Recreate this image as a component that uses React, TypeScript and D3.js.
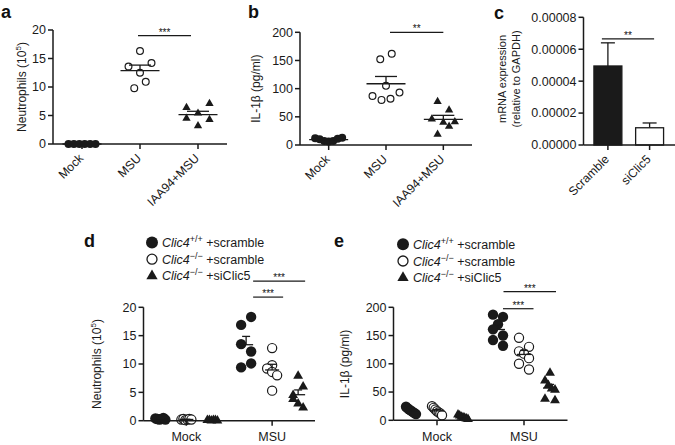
import React from 'react';
import * as d3 from 'd3';

const FONT = "'Liberation Sans', Arial, Helvetica, sans-serif";
const INK = '#1a1a1a';
const TXT = '#1a1a1a';

// ---------- Panel a : neutrophils (10^5)
const catsA = ['Mock', 'MSU', 'IAA94+MSU'];
const neutA_Mock = [0, 0, 0, 0, 0, 0];
const neutA_MSU = [16.3, 13.6, 12.5, 14.2, 9.8, 10.9];
const neutA_IAA = [6.4, 5.4, 7.1, 4.5, 3.2, 4.3];
const ticksA = [0, 5, 10, 15, 20];

// ---------- Panel b : IL-1β (pg/ml)
const il1bB_Mock = [12, 10, 7, 6, 7, 11, 13];
const il1bB_MSU = [152, 162, 105, 87, 80, 82, 93];
const il1bB_IAA = [77, 62, 46, 40, 41, 19, 33];
const ticksB = [0, 50, 100, 150, 200];

// ---------- Panel c : mRNA expression
const catsC = ['Scramble', 'siClic5'];
const mrnaMean = [0.0000495, 0.0000108];
const mrnaSem = [0.0000145, 0.000003];
const ticksC = [0, 0.00002, 0.00004, 0.00006, 0.00008];

// ---------- Panels d, e
const catsDE = ['Mock', 'MSU'];
const groupKeys = ['wt', 'ko', 'koSi'];
const legendSup = ['+/+', '\u2212/\u2212', '\u2212/\u2212'];
const legendTail = [' +scramble', ' +scramble', ' +siClic5'];

const neutD_Mock_wt = [0.4, 0.3, 0.2, 0.3, 0.5, 0.2];
const neutD_Mock_ko = [0.2, 0.3, 0.1, 0.2, 0.3, 0.2];
const neutD_Mock_koSi = [0.1, 0.1, 0.0, 0.1, 0.1, 0.0];
const neutD_MSU_wt = [16.9, 18.3, 13.5, 12.2, 9.4, 10.1];
const neutD_MSU_ko = [12.8, 9.8, 9.2, 8.6, 8.0, 5.3];
const neutD_MSU_koSi = [7.9, 4.5, 6.0, 3.8, 3.0, 2.3];
const ticksD = [0, 5, 10, 15, 20];

const il1bE_Mock_wt = [24, 21, 19, 17, 15, 13, 11];
const il1bE_Mock_ko = [25, 22, 19, 16, 14, 12, 9];
const il1bE_Mock_koSi = [10, 8, 6, 5, 4, 3, 2];
const il1bE_MSU_wt = [187, 170, 183, 161, 150, 142, 132];
const il1bE_MSU_ko = [146, 130, 122, 118, 110, 100, 90];
const il1bE_MSU_koSi = [84, 70, 62, 56, 54, 38, 35];
const ticksE = [0, 50, 100, 150, 200];

type MarkerType = 'filled' | 'open' | 'tri';
const markerOf: Record<string, MarkerType> = { wt: 'filled', ko: 'open', koSi: 'tri' };

type Opt = { T: number; spacing: number; maxHalf: number; r: number; tri: number; meanHalf: number; capHalf: number };

// Prism-like row spreading: values close in y share a row and are spread horizontally
function spread(values: number[], y: (v: number) => number, T: number, spacing: number, maxHalf: number) {
  const idx = values.map((_, i) => i).sort((a, b) => values[a] - values[b]);
  const offs = new Array(values.length).fill(0);
  let bin: number[] = [];
  let start = 0;
  const flush = () => {
    if (!bin.length) return;
    const ordered = bin.slice().sort((a, b) => a - b);
    const n = ordered.length;
    let sp = spacing;
    if (n > 1 && ((n - 1) / 2) * sp > maxHalf) sp = (2 * maxHalf) / (n - 1);
    ordered.forEach((i, k) => (offs[i] = (k - (n - 1) / 2) * sp));
    bin = [];
  };
  idx.forEach((i) => {
    const py = y(values[i]);
    if (bin.length && Math.abs(py - start) > T) flush();
    if (!bin.length) start = py;
    bin.push(i);
  });
  flush();
  return offs;
}

function Marker({ type, x, y, r, tri }: { type: MarkerType; x: number; y: number; r: number; tri: number }) {
  if (type === 'tri') {
    const d = d3.symbol(d3.symbolTriangle, tri)() as string;
    return <path d={d} transform={`translate(${x},${y})`} fill={INK} />;
  }
  if (type === 'open') return <circle cx={x} cy={y} r={r - 0.6} fill="#fff" stroke={INK} strokeWidth={1.2} />;
  return <circle cx={x} cy={y} r={r} fill={INK} />;
}

function ScatterSet({ cx, values, y, type, opt }: { cx: number; values: number[]; y: d3.ScaleLinear<number, number>; type: MarkerType; opt: Opt }) {
  const offs = spread(values, y, opt.T, opt.spacing, opt.maxHalf);
  const m = d3.mean(values) as number;
  const s = values.length > 1 ? (d3.deviation(values) as number) / Math.sqrt(values.length) : 0;
  return (
    <g>
      {values.map((v, i) => (
        <Marker key={i} type={type} x={cx + offs[i]} y={y(v)} r={opt.r} tri={opt.tri} />
      ))}
      <g stroke={INK} strokeWidth={1.3}>
        <line x1={cx - opt.meanHalf} x2={cx + opt.meanHalf} y1={y(m)} y2={y(m)} />
        <line x1={cx} x2={cx} y1={y(m)} y2={y(m + s)} />
        <line x1={cx - opt.capHalf} x2={cx + opt.capHalf} y1={y(m + s)} y2={y(m + s)} />
      </g>
    </g>
  );
}

function YAxis({ x, y, ticks, fmt }: { x: number; y: d3.ScaleLinear<number, number>; ticks: number[]; fmt: (v: number) => string }) {
  const [d0, d1] = y.domain();
  return (
    <g>
      <line x1={x} x2={x} y1={y(d0)} y2={y(d1)} stroke={INK} strokeWidth={1.5} />
      {ticks.map((t) => (
        <g key={t}>
          <line x1={x - 5} x2={x} y1={y(t)} y2={y(t)} stroke={INK} strokeWidth={1.5} />
          <text x={x - 7} y={y(t)} dy="0.35em" textAnchor="end" fontSize={12.5} fill={TXT}>
            {fmt(t)}
          </text>
        </g>
      ))}
    </g>
  );
}

function XAxis({ x0, x1, y0, positions }: { x0: number; x1: number; y0: number; positions: number[] }) {
  return (
    <g>
      <line x1={x0} x2={x1} y1={y0} y2={y0} stroke={INK} strokeWidth={1.5} />
      {positions.map((p, i) => (
        <line key={i} x1={p} x2={p} y1={y0} y2={y0 + 5} stroke={INK} strokeWidth={1.5} />
      ))}
    </g>
  );
}

function RotLabel({ x, y, text }: { x: number; y: number; text: string }) {
  return (
    <text transform={`translate(${x + 2},${y + 15}) rotate(-45)`} textAnchor="end" fontSize={12.2} fill={TXT}>
      {text}
    </text>
  );
}

function Sig({ x1, x2, y, label }: { x1: number; x2: number; y: number; label: string }) {
  return (
    <g>
      <line x1={x1} x2={x2} y1={y} y2={y} stroke={INK} strokeWidth={1.2} />
      <text x={(x1 + x2) / 2} y={y} textAnchor="middle" fontSize={10} fill="#111">
        {label}
      </text>
    </g>
  );
}

function YLabel({ x, y, size = 12, children }: { x: number; y: number; size?: number; children: React.ReactNode }) {
  return (
    <text transform={`translate(${x},${y}) rotate(-90)`} textAnchor="middle" fontSize={size} fill={TXT}>
      {children}
    </text>
  );
}

function Letter({ x, y, t }: { x: number; y: number; t: string }) {
  return (
    <text x={x} y={y} fontSize={18} fontWeight="bold" fill="#111">
      {t}
    </text>
  );
}

function Legend({ x, y, step }: { x: number; y: number; step: number }) {
  return (
    <g>
      {groupKeys.map((k, i) => {
        const cy = y + i * step;
        const type = markerOf[k];
        return (
          <g key={k}>
            {type === 'filled' && <circle cx={x} cy={cy} r={6} fill={INK} />}
            {type === 'open' && <circle cx={x} cy={cy} r={5} fill="#fff" stroke={INK} strokeWidth={1.3} />}
            {type === 'tri' && (
              <path d={d3.symbol(d3.symbolTriangle, 55)() as string} transform={`translate(${x},${cy})`} fill={INK} />
            )}
            <text x={x + 10} y={cy + 4.5} fontSize={12.5} fill={TXT}>
              <tspan fontStyle="italic">Clic4</tspan>
              <tspan fontSize={9} dy={-5}>{legendSup[i]}</tspan>
              <tspan dy={5}>{legendTail[i]}</tspan>
            </text>
          </g>
        );
      })}
    </g>
  );
}

const optAB: Opt = { T: 10, spacing: 11.5, maxHalf: 13.5, r: 4, tri: 30, meanHalf: 19.5, capHalf: 11 };
const optDE: Opt = { T: 10, spacing: 10, maxHalf: 5, r: 5.2, tri: 42, meanHalf: 7, capHalf: 4 };

export default function App() {
  // ---- a
  const xA = d3.scalePoint<string>().domain(catsA).range([53, 227]).padding(0.5);
  const yA = d3.scaleLinear().domain([0, 20]).range([144, 30]);
  const setsA: [string, number[], MarkerType][] = [
    ['Mock', neutA_Mock, 'filled'],
    ['MSU', neutA_MSU, 'open'],
    ['IAA94+MSU', neutA_IAA, 'tri'],
  ];
  // ---- b
  const xB = d3.scalePoint<string>().domain(catsA).range([300, 472]).padding(0.5);
  const yB = d3.scaleLinear().domain([0, 200]).range([145, 32.3]);
  const setsB: [string, number[], MarkerType][] = [
    ['Mock', il1bB_Mock, 'filled'],
    ['MSU', il1bB_MSU, 'open'],
    ['IAA94+MSU', il1bB_IAA, 'tri'],
  ];
  // ---- c
  const xC = d3.scaleBand<string>().domain(catsC).range([583.5, 674]).paddingInner(0.33).paddingOuter(0.25);
  const yC = d3.scaleLinear().domain([0, 0.00008]).range([145, 17.3]);
  // ---- d
  const xD = d3.scalePoint<string>().domain(catsDE).range([143.5, 315]).padding(0.5);
  const yD = d3.scaleLinear().domain([0, 20]).range([420.7, 307.3]);
  const sub = d3.scalePoint<string>().domain(groupKeys).range([-26, 26]);
  const setsD: [string, string, number[]][] = [
    ['Mock', 'wt', neutD_Mock_wt],
    ['Mock', 'ko', neutD_Mock_ko],
    ['Mock', 'koSi', neutD_Mock_koSi],
    ['MSU', 'wt', neutD_MSU_wt],
    ['MSU', 'ko', neutD_MSU_ko],
    ['MSU', 'koSi', neutD_MSU_koSi],
  ];
  // ---- e
  const xE = d3.scalePoint<string>().domain(catsDE).range([393.5, 567.5]).padding(0.5);
  const yE = d3.scaleLinear().domain([0, 200]).range([420.3, 307.3]);
  const setsE: [string, string, number[]][] = [
    ['Mock', 'wt', il1bE_Mock_wt],
    ['Mock', 'ko', il1bE_Mock_ko],
    ['Mock', 'koSi', il1bE_Mock_koSi],
    ['MSU', 'wt', il1bE_MSU_wt],
    ['MSU', 'ko', il1bE_MSU_ko],
    ['MSU', 'koSi', il1bE_MSU_koSi],
  ];

  const fmtInt = (v: number) => String(v);
  const fmtC = (v: number) => v.toFixed(5);

  return (
    <svg
      width={675}
      height={445}
      viewBox="0 0 675 445"
      style={{ position: 'absolute', left: 0, top: 0, background: '#fff' }}
      fontFamily={FONT}
    >
      <rect x={0} y={0} width={675} height={445} fill="#fff" />

      {/* ---------------- a ---------------- */}
      <Letter x={1} y={18} t="a" />
      <YLabel x={26} y={87}>
        Neutrophils (10<tspan fontSize={8} dy={-5}>5</tspan>
        <tspan dy={5}>)</tspan>
      </YLabel>
      {setsA.map(([c, v, t]) => (
        <ScatterSet key={c} cx={xA(c) as number} values={v} y={yA} type={t} opt={optAB} />
      ))}
      <YAxis x={53} y={yA} ticks={ticksA} fmt={fmtInt} />
      <XAxis x0={53} x1={227} y0={yA(0)} positions={catsA.map((c) => xA(c) as number)} />
      {catsA.map((c) => (
        <RotLabel key={c} x={xA(c) as number} y={yA(0)} text={c} />
      ))}
      <Sig x1={(xA('MSU') as number) - 2} x2={(xA('IAA94+MSU') as number) - 7} y={yA(19)} label="***" />

      {/* ---------------- b ---------------- */}
      <Letter x={248} y={18} t="b" />
      <YLabel x={259.5} y={88.7}>IL-1β (pg/ml)</YLabel>
      {setsB.map(([c, v, t]) => (
        <ScatterSet key={c} cx={xB(c) as number} values={v} y={yB} type={t} opt={optAB} />
      ))}
      <YAxis x={300} y={yB} ticks={ticksB} fmt={fmtInt} />
      <XAxis x0={300} x1={472} y0={yB(0)} positions={catsA.map((c) => xB(c) as number)} />
      {catsA.map((c) => (
        <RotLabel key={c} x={xB(c) as number} y={yB(0)} text={c} />
      ))}
      <Sig x1={(xB('MSU') as number) + 4} x2={(xB('IAA94+MSU') as number)} y={yB(200)} label="**" />

      {/* ---------------- c ---------------- */}
      <Letter x={494} y={18.5} t="c" />
      <YLabel x={506} y={79} size={11}>mRNA expression</YLabel>
      <YLabel x={520} y={79} size={11}>(relative to GAPDH)</YLabel>
      {catsC.map((c, i) => {
        const x0 = xC(c) as number;
        const bw = xC.bandwidth();
        const cx = x0 + bw / 2;
        const top = yC(mrnaMean[i]);
        const err = yC(mrnaMean[i] + mrnaSem[i]);
        return (
          <g key={c}>
            <line x1={cx} x2={cx} y1={top} y2={err} stroke={INK} strokeWidth={1.3} />
            <line x1={cx - 7} x2={cx + 7} y1={err} y2={err} stroke={INK} strokeWidth={1.3} />
            <rect
              x={x0}
              y={top}
              width={bw}
              height={yC(0) - top}
              fill={i === 0 ? INK : '#fff'}
              stroke={INK}
              strokeWidth={1.3}
            />
          </g>
        );
      })}
      <YAxis x={583.5} y={yC} ticks={ticksC} fmt={fmtC} />
      <XAxis x0={583.5} x1={675} y0={yC(0)} positions={catsC.map((c) => (xC(c) as number) + xC.bandwidth() / 2)} />
      {catsC.map((c) => (
        <RotLabel key={c} x={(xC(c) as number) + xC.bandwidth() / 2} y={yC(0)} text={c} />
      ))}
      <Sig
        x1={(xC('Scramble') as number) + xC.bandwidth() / 2 - 6}
        x2={(xC('siClic5') as number) + xC.bandwidth() / 2 + 4.5}
        y={yC(0.0000665)}
        label="**"
      />

      {/* ---------------- d ---------------- */}
      <Letter x={84} y={247} t="d" />
      <Legend x={152} y={242.5} step={16.7} />
      <YLabel x={100.5} y={364}>
        Neutrophils (10<tspan fontSize={8} dy={-5}>5</tspan>
        <tspan dy={5}>)</tspan>
      </YLabel>
      {setsD.map(([c, g, v]) => (
        <ScatterSet
          key={c + g}
          cx={(xD(c) as number) + (sub(g) as number)}
          values={v}
          y={yD}
          type={markerOf[g]}
          opt={optDE}
        />
      ))}
      <YAxis x={143.5} y={yD} ticks={ticksD} fmt={fmtInt} />
      <XAxis x0={143.5} x1={315} y0={yD(0)} positions={catsDE.map((c) => xD(c) as number)} />
      {catsDE.map((c) => (
        <text key={c} x={xD(c) as number} y={441} textAnchor="middle" fontSize={12.5} fill={TXT}>
          {c}
        </text>
      ))}
      <Sig x1={(xD('MSU') as number) - 19} x2={(xD('MSU') as number) + 11} y={yD(21.8)} label="***" />
      <Sig x1={(xD('MSU') as number) - 19} x2={(xD('MSU') as number) + 33} y={yD(24.6)} label="***" />

      {/* ---------------- e ---------------- */}
      <Letter x={334} y={247} t="e" />
      <Legend x={403} y={244.3} step={16.7} />
      <YLabel x={348.5} y={364}>IL-1β (pg/ml)</YLabel>
      {setsE.map(([c, g, v]) => (
        <ScatterSet
          key={c + g}
          cx={(xE(c) as number) + (sub(g) as number)}
          values={v}
          y={yE}
          type={markerOf[g]}
          opt={optDE}
        />
      ))}
      <YAxis x={393.5} y={yE} ticks={ticksE} fmt={fmtInt} />
      <XAxis x0={393.5} x1={567.5} y0={yE(0)} positions={catsDE.map((c) => xE(c) as number)} />
      {catsDE.map((c) => (
        <text key={c} x={xE(c) as number} y={441} textAnchor="middle" fontSize={12.5} fill={TXT}>
          {c}
        </text>
      ))}
      <Sig x1={(xE('MSU') as number) - 21} x2={(xE('MSU') as number) + 9.5} y={yE(197.5)} label="***" />
      <Sig x1={(xE('MSU') as number) - 20.5} x2={(xE('MSU') as number) + 32} y={yE(227.6)} label="***" />
    </svg>
  );
}
